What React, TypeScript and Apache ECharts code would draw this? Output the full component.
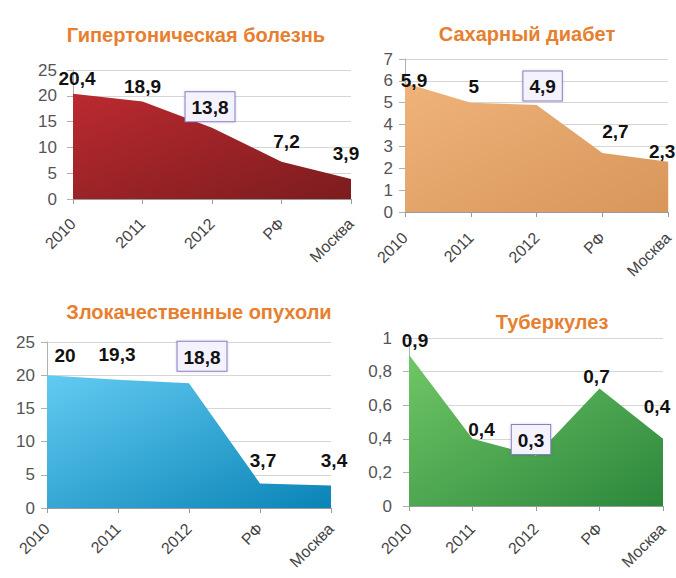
import React, { useEffect, useRef } from "react";
import * as echarts from "echarts";

const categories = ["2010", "2011", "2012", "РФ", "Москва"];
const hypertension = [20.4, 18.9, 13.8, 7.2, 3.9];
const diabetes = [5.9, 5, 4.9, 2.7, 2.3];
const tumors = [20, 19.3, 18.8, 3.7, 3.4];
const tuberculosis = [0.9, 0.4, 0.3, 0.7, 0.4];
const titles = ["Гипертоническая болезнь", "Сахарный диабет", "Злокачественные опухоли", "Туберкулез"];
const yMax = [25, 7, 25, 1];
const yStep = [5, 1, 5, 0.2];
const highlightIndex = 2;

// layout (not data)
const grids = [
  { left: 73, top: 70, width: 278, height: 129 },
  { left: 405, top: 59, width: 268, height: 153 },
  { left: 47, top: 342, width: 284, height: 166 },
  { left: 409, top: 338, width: 254, height: 168 },
];
const titlePos = [
  [191, 20],
  [522, 19],
  [194, 297],
  [547, 307],
];
const yLabelMargin = [16, 12, 12, 17];
const xLabelMargin = [22, 23, 18, 20];
const labelOffsets = [
  [[4, 0], [0, 0], [-2, -1], [5, -5], [-5, -10]],
  [[9, 12], [3, -1], [6, 1], [13, -6], [-6, 5]],
  [[18, -5], [-1, -10], [13, -7], [3, -8], [3, -10]],
  [[6, 1], [9, 6], [-5, 4], [-3, 3], [-6, -17]],
];
const gradients = [
  ["#bb2a30", "#7c1c1e"],
  ["#efb37a", "#d8965a"],
  ["#62cbf2", "#0a84b6"],
  ["#70c766", "#2c873c"],
];

const fmt = (v: number) => (Number.isInteger(v) ? String(v) : v.toFixed(1).replace(".", ","));

export default function App() {
  const ref = useRef<HTMLDivElement>(null);
  useEffect(() => {
    if (!ref.current) return;
    const chart = echarts.init(ref.current, undefined, { renderer: "svg" });
    const seriesData = [hypertension, diabetes, tumors, tuberculosis];
    const font = "Liberation Sans";
    const option: any = {
      animation: false,
      backgroundColor: "#ffffff",
      title: titles.map((t, i) => ({
        text: t,
        left: titlePos[i][0],
        top: titlePos[i][1],
        textAlign: "center",
        textStyle: { color: "#e6802f", fontSize: 20, fontWeight: "bold", fontFamily: font },
      })),
      grid: grids.map((g) => ({ ...g, containLabel: false })),
      xAxis: grids.map((_, i) => ({
        type: "category",
        gridIndex: i,
        data: categories,
        boundaryGap: false,
        axisLine: { lineStyle: { color: "#9a9a9a", width: 1 } },
        axisTick: { show: true, length: 5, lineStyle: { color: "#9a9a9a" } },
        axisLabel: {
          rotate: 45,
          interval: 0,
          margin: xLabelMargin[i],
          color: "#444",
          fontSize: 16,
          fontFamily: font,
        },
      })),
      yAxis: grids.map((_, i) => ({
        type: "value",
        gridIndex: i,
        min: 0,
        max: yMax[i],
        interval: yStep[i],
        axisLine: { show: true, lineStyle: { color: "#b0b0b0" } },
        axisTick: { show: true, length: 6, lineStyle: { color: "#b0b0b0" } },
        splitLine: { show: true, lineStyle: { color: "#d6d6d6", width: 1 } },
        axisLabel: {
          color: "#555",
          fontSize: 17,
          fontFamily: font,
          margin: yLabelMargin[i],
          formatter: (v: number) => fmt(v),
        },
      })),
      series: seriesData.map((vals, i) => ({
        type: "line",
        xAxisIndex: i,
        yAxisIndex: i,
        symbol: "circle",
        symbolSize: 1,
        showSymbol: true,
        itemStyle: { color: "rgba(0,0,0,0)" },
        lineStyle: { width: 0, opacity: 0 },
        areaStyle: {
          opacity: 1,
          color: new echarts.graphic.LinearGradient(0, 0, 1, 1, [
            { offset: 0, color: gradients[i][0] },
            { offset: 1, color: gradients[i][1] },
          ]),
        },
        label: {
          show: true,
          position: "top",
          distance: 5,
          color: "#111",
          fontSize: 19,
          fontWeight: "bold",
          fontFamily: font,
          formatter: (p: any) => fmt(p.value),
        },
        data: vals.map((v, j) => {
          const lbl: any = { offset: labelOffsets[i][j] };
          if (j === highlightIndex) {
            Object.assign(lbl, {
              backgroundColor: "#f4f2fc",
              borderColor: "#8a7cc4",
              borderWidth: 1,
              padding: [6, 6, 4, 6],
              shadowColor: "rgba(0,0,0,0.15)",
              shadowBlur: 3,
            });
          }
          return { value: v, label: lbl };
        }),
        z: 2,
      })),
    };
    chart.setOption(option);
    return () => chart.dispose();
  }, []);
  return <div ref={ref} style={{ position: "absolute", left: 0, top: 0, width: 676, height: 578 }} />;
}
